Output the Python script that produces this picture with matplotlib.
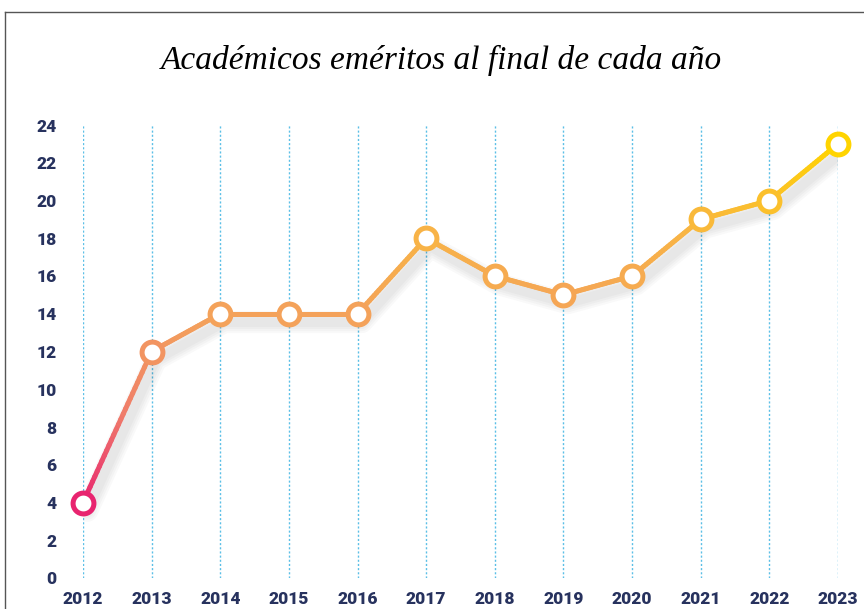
import numpy as np
import matplotlib
matplotlib.use("Agg")
import matplotlib.pyplot as plt
from matplotlib.collections import LineCollection
from matplotlib.colors import LinearSegmentedColormap
import matplotlib.patheffects as pe

# Data
years = [2012, 2013, 2014, 2015, 2016, 2017, 2018, 2019, 2020, 2021, 2022, 2023]
emeritos = [4, 12, 14, 14, 14, 18, 16, 15, 16, 19, 20, 23]
title = "Académicos eméritos al final de cada año"

navy = "#27325e"
cmap = LinearSegmentedColormap.from_list(
    "grad", ["#e8246f", "#ef7c6a", "#f3a05c", "#f8b446", "#ffd400"])
norm = plt.Normalize(min(emeritos), max(emeritos))

fig = plt.figure(figsize=(8.64, 6.09), dpi=100)
ax = fig.add_axes([83 / 864, 1 - 578 / 609, (838 - 83) / 864, (578 - 125) / 609])

# frame lines (top and left)
fig.add_artist(plt.Line2D([5 / 864, 1], [1 - 12 / 609, 1 - 12 / 609], color="#555555", lw=1))
fig.add_artist(plt.Line2D([5 / 864, 5 / 864], [0, 1 - 12 / 609], color="#555555", lw=1))

# vertical dotted grid
for y in years:
    ax.plot([y, y], [0, 24], color="#5bbfe6", lw=1, ls=(0, (1.5, 1.5)), zorder=1)

# gradient line, each segment split into small pieces for the colour ramp
segs, cols = [], []
for i in range(len(years) - 1):
    xs = np.linspace(years[i], years[i + 1], 30)
    ys = np.linspace(emeritos[i], emeritos[i + 1], 30)
    for j in range(len(xs) - 1):
        segs.append([(xs[j], ys[j]), (xs[j + 1], ys[j + 1])])
        cols.append(cmap(norm((ys[j] + ys[j + 1]) / 2)))

# soft shadow: several wide faint strokes
shadow = [pe.SimpleLineShadow(offset=(3, -6), shadow_color="black", alpha=0.025, linewidth=w)
          for w in (16, 13, 10, 7)]
ax.plot(years, emeritos, color="none", lw=3.6, zorder=2, solid_joinstyle="round",
        solid_capstyle="round", path_effects=shadow)
lc = LineCollection(segs, colors=cols, linewidths=3.6, capstyle="round", zorder=3)
ax.add_collection(lc)

for x, v in zip(years, emeritos):
    ax.plot(x, v, "o", ms=15, mfc="white", mec=cmap(norm(v)), mew=3.6, zorder=4, clip_on=False)

ax.set_xlim(2012, 2023)
ax.set_ylim(0, 24)
ax.set_xticks(years)
ax.set_yticks(range(0, 25, 2))
for s in ax.spines.values():
    s.set_visible(False)
ax.tick_params(length=0, colors=navy, labelsize=12.5)
ax.tick_params(axis="y", pad=19)
ax.tick_params(axis="x", pad=9)
for lab in ax.get_xticklabels() + ax.get_yticklabels():
    lab.set_fontfamily("Roboto")
    lab.set_fontweight("heavy")

fig.text(441 / 864, 1 - 60 / 609, title, ha="center", va="center",
         fontsize=24, style="italic", family="Liberation Serif", color="black")

fig.savefig("out.png", dpi=100)
